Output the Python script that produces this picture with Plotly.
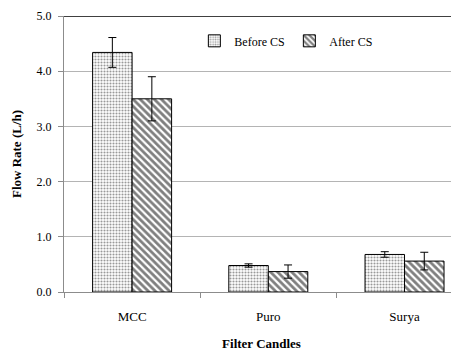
import plotly.graph_objects as go

categories = ["MCC", "Puro", "Surya"]
before_cs = [4.34, 0.48, 0.68]
before_err = [0.27, 0.03, 0.05]
after_cs = [3.50, 0.37, 0.56]
after_err = [0.40, 0.12, 0.16]
y_ticks = [0, 1, 2, 3, 4, 5]
y_ticktext = ["0.0", "1.0", "2.0", "3.0", "4.0", "5.0"]

font_family = "Times New Roman, Liberation Serif, serif"

fig = go.Figure()
fig.add_trace(go.Bar(
    name="Before CS", x=categories, y=before_cs,
    marker=dict(color="white", line=dict(color="black", width=1),
                pattern=dict(shape=".", fgcolor="#333333", bgcolor="white", size=3, solidity=0.4)),
    error_y=dict(type="data", array=before_err, color="black", thickness=1, width=4),
))
fig.add_trace(go.Bar(
    name="After CS", x=categories, y=after_cs,
    marker=dict(color="white", line=dict(color="black", width=1),
                pattern=dict(shape="\\", fgcolor="black", bgcolor="white", size=5, solidity=0.55)),
    error_y=dict(type="data", array=after_err, color="black", thickness=1, width=4),
))

fig.add_shape(type="line", xref="paper", yref="y", x0=0, x1=1, y0=5, y1=5,
              line=dict(color="black", width=1.5))

fig.update_layout(
    width=451, height=344,
    margin=dict(l=56, r=0, t=8, b=60, autoexpand=False),
    paper_bgcolor="white", plot_bgcolor="white",
    barmode="group", bargap=0.42, bargroupgap=0,
    font=dict(family=font_family, size=12, color="black"),
    showlegend=True,
    legend=dict(orientation="h", x=0.33, y=0.91, xanchor="left", yanchor="middle",
                bgcolor="rgba(0,0,0,0)", font=dict(family=font_family, size=12), itemwidth=30,
                entrywidth=50),
    xaxis=dict(range=[-0.5, 2.4], showline=True, linecolor="#8c8c8c", linewidth=1,
               ticks="outside", tickson="boundaries", ticklen=5, tickcolor="#8c8c8c",
               showgrid=False, tickfont=dict(size=13), automargin=False,
               ticklabelstandoff=12,
               title=dict(text="<b>Filter Candles</b>", font=dict(size=13), standoff=16)),
    yaxis=dict(range=[0, 5], tickvals=y_ticks, ticktext=y_ticktext, showline=True,
               linecolor="#8c8c8c", linewidth=1, ticks="outside", ticklen=5,
               tickcolor="#8c8c8c", showgrid=True, gridcolor="#b4b4b4", gridwidth=1,
               zeroline=False, tickfont=dict(size=12), automargin=False,
               ticklabelstandoff=4,
               title=dict(text="<b>Flow Rate (L/h)</b>", font=dict(size=13), standoff=12)),
)

fig.write_html("out.html")
